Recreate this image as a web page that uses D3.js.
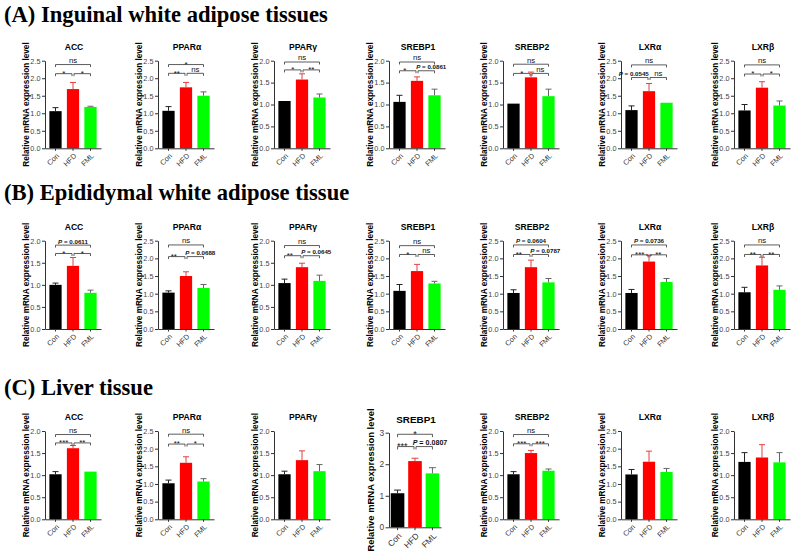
<!DOCTYPE html>
<html><head><meta charset="utf-8">
<script src="https://cdn.jsdelivr.net/npm/d3@7"></script>
<style>body{margin:0;background:#fff}svg{display:block}</style>
</head><body>
<script>
// ---------- data ----------
const sections = ["(A) Inguinal white adipose tissues", "(B) Epididymal white adipose tissue", "(C) Liver tissue"];
const genes = ["ACC", "PPARα", "PPARγ", "SREBP1", "SREBP2", "LXRα", "LXRβ"];
const groups = ["Con", "HFD", "FML"];
const yLabel = "Relative mRNA expression level";

// (A) Inguinal WAT
const yMaxA = [2.5, 2.5, 2.0, 2.0, 2.0, 2.5, 2.5];
const meanA = [[1.06,1.69,1.18],[1.07,1.74,1.50],[1.08,1.57,1.16],[1.06,1.54,1.21],[1.02,1.62,1.19],[1.09,1.63,1.30],[1.08,1.73,1.22]];
const errA  = [[1.16,1.88,1.20],[1.19,1.88,1.61],[1.08,1.70,1.24],[1.21,1.63,1.35],[1.02,1.74,1.35],[1.21,1.85,1.30],[1.25,1.90,1.35]];
const sigA = [
  [["ns",2.39],["*",2.13],["*",2.13]],
  [["*",2.39],["**",2.14],["ns",2.14]],
  [["ns",1.97],["*",1.79],["**",1.79]],
  [["ns",1.97],["*",1.77],["P = 0.0861",1.77]],
  [["ns",1.92],["*",1.71],["ns",1.71]],
  [["ns",2.38],["P = 0.0545",2.02],["ns",2.02]],
  [["ns",2.38],["*",2.12],["*",2.12]]
];
// (B) Epididymal WAT
const yMaxB = [2.0, 2.5, 2.0, 2.5, 2.5, 2.5, 2.5];
const meanB = [[1.00,1.43,0.82],[1.03,1.50,1.16],[1.04,1.40,1.09],[1.08,1.64,1.29],[1.02,1.75,1.32],[1.02,1.91,1.33],[1.04,1.80,1.11]];
const errB  = [[1.04,1.62,0.88],[1.08,1.62,1.26],[1.13,1.49,1.22],[1.26,1.83,1.35],[1.11,1.95,1.43],[1.12,2.09,1.43],[1.18,2.03,1.22]];
const sigB = [
  [["P = 0.0611",1.90],["*",1.71],["*",1.71]],
  [["ns",2.38],["**",2.05],["P = 0.0688",2.05]],
  [["ns",1.89],["**",1.66],["P = 0.0645",1.66]],
  [["ns",2.36],["*",2.11],["ns",2.11]],
  [["P = 0.0604",2.38],["**",2.11],["P = 0.0787",2.11]],
  [["P = 0.0736",2.38],["***",2.10],["**",2.10]],
  [["ns",2.38],["**",2.11],["**",2.11]]
];
// (C) Liver
const yMaxC = [2.0, 2.5, 2.0, 3, 2.0, 2.5, 2.0];
const meanC = [[1.02,1.61,1.08],[1.02,1.60,1.07],[1.02,1.34,1.09],[1.08,2.10,1.71],[1.02,1.50,1.10],[1.27,1.63,1.34],[1.30,1.40,1.29]];
const errC  = [[1.08,1.67,1.08],[1.11,1.77,1.15],[1.09,1.55,1.24],[1.18,2.19,1.89],[1.08,1.56,1.14],[1.41,1.93,1.44],[1.51,1.69,1.51]];
const sigC = [
  [["ns",1.92],["***",1.73],["**",1.73]],
  [["ns",2.41],["**",2.13],["*",2.13]],
  null,
  [["*",2.95],["***",2.56],["P = 0.0807",2.56]],
  [["ns",1.92],["***",1.71],["***",1.71]],
  null, null
];

// ---------- layout ----------
const W = 797, H = 554;
const barColor = {Con: "#000000", HFD: "#ff0000", FML: "#00ff00"};
const errColor = {Con: "#222222", HFD: "#e04040", FML: "#666666"};
const colX = [45, 158, 274, 389, 503, 621, 734];
const rowLayout = [
  {titleY: 22, top: 60.7, bot: 148.3},
  {titleY: 200, top: 240.7, bot: 329},
  {titleY: 395, top: 431, bot: 519.3}
];
const rowData = [
  {yMax: yMaxA, mean: meanA, err: errA, sig: sigA},
  {yMax: yMaxB, mean: meanB, err: errB, sig: sigB},
  {yMax: yMaxC, mean: meanC, err: errC, sig: sigC}
];

const svg = d3.select("body").append("svg").attr("width", W).attr("height", H)
  .style("font-family", "Arial, 'Liberation Sans', sans-serif");
svg.append("rect").attr("width", W).attr("height", H).attr("fill", "#fff");

rowLayout.forEach((r, ri) => {
  svg.append("text").attr("x", 4).attr("y", r.titleY)
    .attr("font-family", "'Liberation Serif', 'Times New Roman', serif")
    .attr("font-weight", "bold").attr("font-size", 22.6).attr("fill", "#000")
    .text(sections[ri]);
});

function drawPanel(cfg) {
  const {x0, top, bot, k, gene, means, errs, yMax, sigs, xEnd, pin, pout, ylabOff, titleOff} = cfg;
  const g = svg.append("g");
  const y = d3.scaleLinear().domain([0, yMax]).range([bot, top]);
  const x = d3.scaleBand().domain(groups).range([x0, xEnd]).paddingInner(pin).paddingOuter(pout);
  const bw = x.bandwidth();
  const cx = d => x(d) + bw / 2;
  const step = yMax >= 3 ? 1 : 0.5;
  const ticks = d3.range(0, yMax + 1e-9, step);

  // bars
  g.selectAll("rect.bar").data(groups).join("rect")
    .attr("x", d => x(d)).attr("width", bw)
    .attr("y", (d, i) => y(means[i])).attr("height", (d, i) => y(0) - y(means[i]))
    .attr("fill", d => barColor[d]);

  // error bars (upper)
  groups.forEach((d, i) => {
    if (errs[i] > means[i] + 1e-6) {
      g.append("line").attr("x1", cx(d)).attr("x2", cx(d))
        .attr("y1", y(means[i])).attr("y2", y(errs[i]))
        .attr("stroke", errColor[d]).attr("stroke-width", 1);
      g.append("line").attr("x1", cx(d) - 3 * k).attr("x2", cx(d) + 3 * k)
        .attr("y1", y(errs[i])).attr("y2", y(errs[i]))
        .attr("stroke", errColor[d]).attr("stroke-width", 1);
    }
  });

  // y axis
  const ya = g.append("g").attr("transform", `translate(${x0},0)`)
    .call(d3.axisLeft(y).tickValues(ticks)
      .tickFormat(step < 1 ? d3.format(".1f") : d3.format("d"))
      .tickSize(3 * k).tickPadding(1.5).tickSizeOuter(0));
  ya.select(".domain").attr("stroke", "#333").attr("stroke-width", 1);
  ya.selectAll(".tick line").attr("stroke", "#333");
  ya.selectAll(".tick text").attr("font-size", 7.3 * k).attr("fill", "#444")
    .attr("font-family", "Arial, 'Liberation Sans', sans-serif");

  // x axis
  const xa = g.append("g").attr("transform", `translate(0,${bot})`)
    .call(d3.axisBottom(x).tickSize(2.5 * k).tickSizeOuter(0));
  xa.select(".domain").attr("stroke", "#333").attr("stroke-width", 1);
  xa.selectAll(".tick line").attr("stroke", "#333");
  xa.selectAll(".tick text").attr("font-size", 7.3 * k).attr("fill", "#333")
    .attr("font-family", "Arial, 'Liberation Sans', sans-serif")
    .attr("text-anchor", "end").attr("dy", null).attr("x", 0).attr("y", 0)
    .attr("transform", `translate(${4 * k},${8 * k}) rotate(-45)`);

  // gene title
  g.append("text").attr("x", (x0 + xEnd) / 2 + 1).attr("y", top - titleOff)
    .attr("text-anchor", "middle").attr("font-weight", "bold")
    .attr("font-size", 8.6 * k).attr("fill", "#000").text(gene);

  // y label
  g.append("text").attr("transform", `translate(${x0 - ylabOff},${(top + bot) / 2}) rotate(-90)`)
    .attr("text-anchor", "middle").attr("font-weight", "bold")
    .attr("font-size", 8.2 * k).attr("fill", "#000").text(yLabel);

  // significance brackets
  if (sigs) {
    const pairs = [[cx("Con"), cx("FML")], [cx("Con"), cx("HFD") - 1], [cx("HFD") + 1, cx("FML")]];
    const isP = s => s && s[0].startsWith("P");
    sigs.forEach((s, j) => {
      if (!s) return;
      const [lab, v] = s;
      const [xa1, xb1] = pairs[j];
      const yy = y(v), tip = 2.5 * k;
      g.append("path").attr("d", `M${xa1},${yy + tip}V${yy}H${xb1}V${yy + tip}`)
        .attr("fill", "none").attr("stroke", "#333").attr("stroke-width", 0.8);
      // nudge labels apart when a wide P label shares the lower level
      let dx = 0;
      if (j === 2 && isP(s)) dx = 5 * k;
      if (j === 1 && isP(s)) dx = -6 * k;
      if (j === 1 && !isP(s) && isP(sigs[2])) dx = -3 * k;
      const t = g.append("text").attr("x", (xa1 + xb1) / 2 + dx).attr("text-anchor", "middle").attr("fill", "#111");
      if (lab.startsWith("P")) {
        t.attr("y", yy - 1.6).attr("font-size", 6.2 * k).attr("font-weight", "bold");
        t.append("tspan").attr("font-style", "italic").text("P");
        t.append("tspan").text(lab.slice(1));
      } else if (lab.startsWith("*")) {
        t.attr("y", yy + 2.2 * k).attr("font-size", 8 * k).text(lab);
      } else {
        t.attr("y", yy - 1.6).attr("font-size", 7.8 * k).text(lab);
      }
    });
  }
}

rowLayout.forEach((r, ri) => {
  const d = rowData[ri];
  genes.forEach((gene, gi) => {
    const special = (ri === 2 && gi === 3);
    const x0 = colX[gi];
    drawPanel({
      x0,
      top: special ? 432.7 : r.top,
      bot: special ? 527.3 : r.bot,
      k: special ? 1.15 : 1,
      gene,
      means: d.mean[gi], errs: d.err[gi], yMax: d.yMax[gi], sigs: d.sig[gi],
      xEnd: special ? x0 + 52 : x0 + 56,
      pin: special ? 0.22 : 0.3,
      pout: special ? 0.1 : 0.25,
      ylabOff: special ? 15.5 : 16.5,
      titleOff: special ? 10 : 10.7
    });
  });
});
</script>
</body></html>
